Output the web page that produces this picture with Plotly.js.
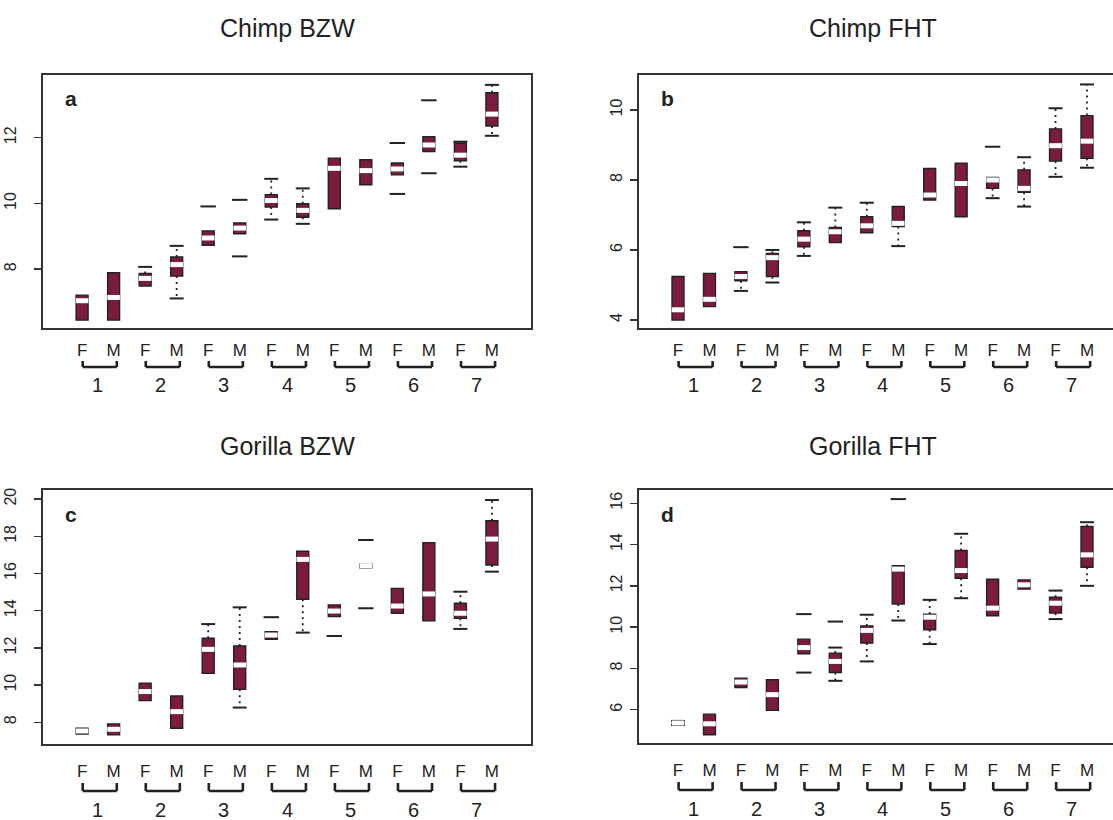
<!DOCTYPE html>
<html><head><meta charset="utf-8">
<script src="https://cdn.plot.ly/plotly-3.0.1.min.js"></script>
<style>html,body{margin:0;padding:0;overflow:hidden;background:#fff}#chart{width:1130px;height:820px}</style>
</head><body><div id="chart"></div><script>
// ---- labels ----
const sexLabels = ['F', 'M'];
const groupLabels = ['1', '2', '3', '4', '5', '6', '7'];
const panelTitles = ['Chimp BZW', 'Chimp FHT', 'Gorilla BZW', 'Gorilla FHT'];
const panelLetters = ['a', 'b', 'c', 'd'];

// ---- a: Chimp BZW ----
const aQ1  = [6.45, 6.45, 7.49, 7.79, 8.73, 9.08, 9.89, 9.58, 9.84, 10.57, 10.87, 11.58, 11.30, 12.36];
const aMed = [7.04, 7.14, 7.72, 8.14, 8.95, 9.25, 10.09, 9.79, 11.07, 11.00, 11.05, 11.78, 11.47, 12.72];
const aQ3  = [7.21, 7.89, 7.87, 8.37, 9.16, 9.41, 10.27, 9.99, 11.38, 11.33, 11.23, 12.03, 11.84, 13.37];
const aLo  = [null, null, null, 7.11, null, null, 9.51, 9.38, null, null, null, null, 11.12, 12.06];
const aHi  = [null, null, 8.07, 8.71, null, null, 10.75, 10.46, null, null, null, null, 11.88, 13.61];
const aOutPos = [5, 6, 6, 11, 11, 12, 12];
const aOutVal = [9.91, 10.11, 8.39, 11.84, 10.29, 13.14, 10.92];

// ---- b: Chimp FHT ----
const bQ1  = [4.00, 4.38, 5.12, 5.24, 6.09, 6.21, 6.49, 6.67, 7.43, 6.95, 7.76, 7.65, 8.54, 8.62];
const bMed = [4.29, 4.59, 5.24, 5.78, 6.31, 6.52, 6.69, 6.76, 7.57, 7.90, 8.00, 7.76, 8.98, 9.11];
const bQ3  = [5.24, 5.33, 5.38, 5.90, 6.55, 6.64, 6.95, 7.24, 8.33, 8.48, 8.07, 8.29, 9.46, 9.84];
const bLo  = [null, null, 4.83, 5.07, 5.83, null, null, 6.11, null, null, 7.48, 7.24, 8.09, 8.35];
const bHi  = [null, null, null, 6.00, 6.79, 7.21, 7.35, null, null, null, null, 8.65, 10.05, 10.73];
const bOutPos = [3, 11];
const bOutVal = [6.08, 8.95];

// ---- c: Gorilla BZW ----
const cQ1  = [7.37, 7.32, 9.16, 7.68, 10.63, 9.77, 12.46, 14.61, 13.68, 16.31, 13.86, 13.45, 13.59, 16.46];
const cMed = [7.53, 7.62, 9.65, 8.57, 11.92, 11.08, 12.69, 16.76, 13.98, 16.42, 14.25, 14.90, 13.86, 17.85];
const cQ3  = [7.68, 7.91, 10.10, 9.41, 12.52, 12.10, 12.87, 17.20, 14.31, 16.51, 15.20, 17.66, 14.40, 18.84];
const cLo  = [null, null, null, null, null, 8.79, null, 12.82, null, null, null, null, 13.02, 16.10];
const cHi  = [null, null, null, null, 13.28, 14.18, null, null, null, null, null, null, 15.02, 19.95];
const cOutPos = [7, 9, 10, 10];
const cOutVal = [13.65, 12.64, 17.80, 14.13];

// ---- d: Gorilla FHT ----
const dQ1  = [5.34, 4.79, 7.08, 5.97, 8.71, 7.80, 9.23, 11.12, 9.87, 12.37, 10.55, 11.84, 10.68, 12.90];
const dMed = [5.36, 5.32, 7.34, 6.73, 9.01, 8.34, 9.84, 12.81, 10.48, 12.74, 10.92, 12.05, 11.16, 13.50];
const dQ3  = [5.38, 5.79, 7.53, 7.45, 9.42, 8.74, 10.06, 12.98, 10.63, 13.71, 12.32, 12.29, 11.45, 14.87];
const dLo  = [5.26, null, null, null, null, 7.40, 8.34, 10.32, 9.18, 11.40, null, null, 10.39, 12.00];
const dHi  = [5.46, null, null, null, null, 9.01, 10.60, null, 11.32, 14.52, null, null, 11.77, 15.08];
const dOutPos = [5, 5, 6, 8];
const dOutVal = [10.63, 7.80, 10.27, 16.20];

const panelData = [
  {q1: aQ1, med: aMed, q3: aQ3, lo: aLo, hi: aHi, op: aOutPos, ov: aOutVal},
  {q1: bQ1, med: bMed, q3: bQ3, lo: bLo, hi: bHi, op: bOutPos, ov: bOutVal},
  {q1: cQ1, med: cMed, q3: cQ3, lo: cLo, hi: cHi, op: cOutPos, ov: cOutVal},
  {q1: dQ1, med: dMed, q3: dQ3, lo: dLo, hi: dHi, op: dOutPos, ov: dOutVal}
];

// ---- layout geometry (pixels) ----
const W = 1130, H = 820;
const frames = [
  {x0: 43,  x1: 531,  y0: 75,  y1: 328, yr: [6.21, 13.91], tx: 287, ty: 28,  ys: 12, off: [22, 33, 39, 57]},
  {x0: 639, x1: 1126, y0: 75,  y1: 328, yr: [3.77, 11.0],  tx: 873, ty: 28,  ys: 2,  off: [22, 33, 39, 57]},
  {x0: 43,  x1: 531,  y0: 490, y1: 744, yr: [6.83, 20.49], tx: 287, ty: 446, ys: 12, off: [27, 39, 47, 66]},
  {x0: 639, x1: 1126, y0: 490, y1: 743, yr: [4.39, 16.64], tx: 873, ty: 446, ys: 2,  off: [27, 39, 47, 66]}
];
const XR = [-0.24, 15.24];
const FONT = 'Liberation Sans, Arial, Helvetica, sans-serif';
const INK = '#222';
const FILL = '#7a1b3f';

const positions = [];
const tickText = [];
groupLabels.forEach((g, gi) => sexLabels.forEach((s, si) => { positions.push(gi * 2 + si + 1); tickText.push(s); }));

const traces = [];
const layout = {
  width: W, height: H, margin: {l: 0, r: 0, t: 0, b: 0},
  paper_bgcolor: '#fff', plot_bgcolor: '#fff', showlegend: false,
  barmode: 'overlay', annotations: [], shapes: [], font: {family: FONT, color: INK}
};

frames.forEach((f, i) => {
  const s = i === 0 ? '' : String(i + 1);
  const xa = 'x' + s, ya = 'y' + s;
  const d = panelData[i];
  const wx = [], wy = [];
  const cx = [], cy = [];
  positions.forEach((p, k) => {
    if (d.hi[k] !== null) { wx.push(p, p, null); wy.push(d.q3[k], d.hi[k], null); cx.push(p); cy.push(d.hi[k]); }
    if (d.lo[k] !== null) { wx.push(p, p, null); wy.push(d.q1[k], d.lo[k], null); cx.push(p); cy.push(d.lo[k]); }
  });
  // whiskers (dotted)
  traces.push({type: 'scatter', mode: 'lines', x: wx, y: wy, xaxis: xa, yaxis: ya,
    line: {color: INK, width: 1.8, dash: '2px,4px'}, hoverinfo: 'skip'});
  // boxes
  traces.push({type: 'bar', x: positions, base: d.q1, y: d.q3.map((v, k) => v - d.q1[k]),
    width: 0.38, xaxis: xa, yaxis: ya,
    marker: {color: FILL, line: {color: INK, width: 1.4}}, hoverinfo: 'skip'});
  // whisker caps
  traces.push({type: 'scatter', mode: 'markers', x: cx, y: cy, xaxis: xa, yaxis: ya,
    marker: {symbol: 'line-ew', size: 10, line: {color: INK, width: 2}}, hoverinfo: 'skip'});
  // outliers
  traces.push({type: 'scatter', mode: 'markers', x: d.op, y: d.ov, xaxis: xa, yaxis: ya,
    marker: {symbol: 'line-ew', size: 11, line: {color: INK, width: 2}}, hoverinfo: 'skip'});
  // medians (white)
  traces.push({type: 'scatter', mode: 'markers', x: positions, y: d.med, xaxis: xa, yaxis: ya,
    marker: {symbol: 'line-ew', size: 9, line: {color: '#fff', width: 5}}, hoverinfo: 'skip'});

  const fh = f.y1 - f.y0, fw = f.x1 - f.x0;
  layout['xaxis' + s] = {
    domain: [f.x0 / W, f.x1 / W], range: XR, anchor: ya,
    tickmode: 'array', tickvals: positions, ticktext: tickText, ticks: '',
    tickfont: {size: 17, family: FONT, color: INK},
    showline: true, mirror: true, linecolor: '#333', linewidth: 1.8,
    showgrid: false, zeroline: false, fixedrange: true, ticklabelstandoff: f.off[0] - 16
  };
  layout['yaxis' + s] = {
    domain: [1 - f.y1 / H, 1 - f.y0 / H], range: f.yr, anchor: xa, dtick: 2,
    ticks: 'outside', ticklen: 7, tickwidth: 1.4, tickcolor: '#333', tickangle: -90,
    tickfont: {size: 16, family: FONT, color: INK}, ticklabelstandoff: f.ys,
    showline: true, mirror: true, linecolor: '#333', linewidth: 1.8,
    showgrid: false, zeroline: false, fixedrange: true
  };
  // title
  layout.annotations.push({xref: 'paper', yref: 'paper', x: f.tx / W, y: 1 - f.ty / H,
    text: panelTitles[i], showarrow: false, xanchor: 'center', yanchor: 'middle',
    font: {size: 25, family: FONT, color: INK}});
  // panel letter
  layout.annotations.push({xref: xa + ' domain', yref: ya + ' domain', x: 20 / fw, y: 1 - 24 / fh,
    text: '<b>' + panelLetters[i] + '</b>', showarrow: false, xanchor: 'left', yanchor: 'middle',
    font: {size: 21, family: FONT, color: INK}});
  // group brackets and numbers
  groupLabels.forEach((g, gi) => {
    const xF = gi * 2 + 1, xM = gi * 2 + 2;
    const fx = v => (v - XR[0]) / (XR[1] - XR[0]);
    const xl = fx(xF + 0.02), xr = fx(xM + 0.1);
    const yt = -f.off[1] / fh, yb = -f.off[2] / fh;
    const ln = {color: INK, width: 2.6};
    layout.shapes.push({type: 'line', xref: xa + ' domain', yref: ya + ' domain', x0: xl, x1: xr, y0: yb, y1: yb, line: ln});
    layout.shapes.push({type: 'line', xref: xa + ' domain', yref: ya + ' domain', x0: xl, x1: xl, y0: yb, y1: yt, line: ln});
    layout.shapes.push({type: 'line', xref: xa + ' domain', yref: ya + ' domain', x0: xr, x1: xr, y0: yb, y1: yt, line: ln});
    layout.annotations.push({xref: xa, yref: ya + ' domain', x: (xF + xM) / 2, y: -f.off[3] / fh,
      text: g, showarrow: false, xanchor: 'center', yanchor: 'middle',
      font: {size: 20, family: FONT, color: INK}});
  });
});

Plotly.newPlot('chart', traces, layout, {displayModeBar: false, staticPlot: true});
</script></body></html>
